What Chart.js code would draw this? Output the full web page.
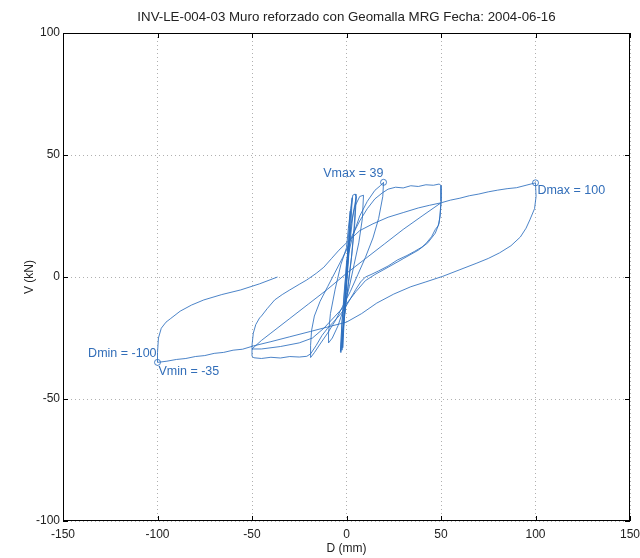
<!DOCTYPE html>
<html>
<head>
<meta charset="utf-8">
<script src="https://cdn.jsdelivr.net/npm/chart.js@4.4.0/dist/chart.umd.min.js"></script>
<style>
  html, body { margin: 0; padding: 0; background: #fff; }
  #wrap { width: 640px; height: 558px; }
</style>
</head>
<body>
<div id="wrap"><canvas id="hyst"></canvas></div>
<script>
// small cycles near origin (+-1, +-2, +-5, +-10 mm)
const dSmall = [0, 0.5, 1, 0.6, 0, -0.5, -1, -0.6, 0, 1, 2, 1.6, 0.5, -0.5, -1.5, -2, -1.5, -0.3, 1, 2.2, 3.3, 4.6, 5, 4, 2.6, 1, -1, -2.4, -3, -2.6, -1.2, 0.6, 2.5, 4.5, 7, 9, 8.4, 6.5, 4, 1.5, -1.5, -4.5, -7.5, -9.5, -9.5, -8.5, -6, -3, 0];
const vSmall = [0, 7, 14, 6, -1, -8, -15, -6, 1, 16, 27, 16, 4, -9, -22, -29, -17, -3, 12, 26, 33.5, 34, 33, 20, 8, -2, -16, -27, -31, -21, -6, 10, 22, 29, 33, 33.5, 24, 14, 5, -4, -13, -20, -25, -27, -23, -15, -5, 5, 12];

// repeated small cycles (second pass, slightly softer)
const dSmall2 = [0, 1, 2.2, 3, 2.4, 1, -0.5, -1.8, -2.4, -1.6, 0, 1.5, 3.5, 5.2, 4.4, 2.8, 1, -1, -2.5, -3.2, -2.4, -0.6, 0];
const vSmall2 = [12, 20, 28, 32.5, 22, 8, -6, -19, -30, -20, -4, 12, 26, 33, 22, 9, -3, -15, -25, -30.5, -19, -2, 6];

// +-20 mm cycle
const d20 = [0, 3, 7, 11, 15, 18, 19.6, 19.2, 17, 14, 10, 6, 2, -2, -6, -10, -14, -17, -19, -19, -18.5, -17, -14, -10, -6, -2, 0];
const v20 = [6, 16, 25, 31, 35.5, 37.5, 38.8, 33, 24, 16, 8, 1, -6, -12, -18, -23, -27.5, -31, -33, -28, -22, -16, -10, -4, 2, 8, 11];

// first +-50 mm cycle
const d50a = [0, 3, 7, 11, 15, 19, 22, 26, 30, 34, 38, 42, 46, 49, 50, 50, 49.6, 48.5, 47, 45, 42, 40, 36, 32, 27, 22, 17, 13, 10, 7.5, 5, 2, -1, -4, -7, -10, -13, -16, -19, -21, -25, -30, -35, -40, -45, -49, -50, -50, -49.3, -48, -46, -45, -42, -38, -34, -30, -25, -21, -16, -12, -8, -4, 0];
const v50a = [11, 17, 23, 28, 32, 34.5, 36, 36.8, 36.5, 37.4, 37.1, 37.8, 37.6, 38.1, 37.5, 31, 25, 21, 19.5, 16.5, 13.7, 12.3, 10.5, 8.8, 7, 4.5, 2.5, 1, 0, -2, -5, -9, -13, -16, -18.5, -21, -24, -28, -31.5, -32.5, -32.8, -32.6, -33.2, -32.9, -33.4, -33.1, -32.5, -28, -23, -19.5, -16.8, -16, -13, -9.4, -7.2, -5.3, -3, -1.2, 1.5, 4, 7.5, 11, 14];

// second +-50 mm cycle
const d50b = [0, 7, 14, 22, 30, 38, 44, 50, 49, 47, 43, 38, 30, 22, 15, 10, 5, 0, -6, -12, -18, -25, -35, -45, -50];
const v50b = [14, 19, 21.8, 24.5, 26.4, 28.3, 29.4, 30.4, 22, 18, 14, 11, 7.5, 4, 1, -1.5, -6, -11, -16, -21, -25, -27, -28.5, -29.5, -29.5];

// +-100 mm cycle and final unloading
const d100 = [-50, -45, -40, -30, -20, -10, 0, 10, 20, 30, 40, 50, 55, 60, 65, 70, 75, 80, 85, 90, 95, 100, 100.3, 99.5, 97, 95, 92, 87, 81, 75, 69, 60, 51, 42, 34, 25, 16, 8, 0, -10, -19, -30, -40, -49, -55, -60, -65, -70, -75, -80, -85, -90, -95, -100, -100, -99.5, -98, -95.5, -93, -88, -82, -75.5, -66, -56, -46, -36.5];
const v100 = [-29.5, -26, -23, -17, -11, -5, 1.5, 7.5, 13.5, 19.5, 25, 30.4, 31.5, 32.3, 33.3, 34, 34.9, 35.6, 36.2, 36.6, 37.6, 38.6, 33, 28, 23.4, 20, 16.4, 12.8, 9.9, 7.6, 5.7, 3, 0.3, -2, -4, -7, -10.7, -15, -18.5, -20.5, -22.3, -24.5, -26.5, -28.2, -29.6, -30, -30.9, -31.3, -32.2, -32.6, -33.4, -33.8, -34.5, -35, -31, -25, -21, -18.5, -17, -14, -11.5, -9.4, -7.2, -5.3, -2.8, 0];

const xTicks = [-150, -100, -50, 0, 50, 100, 150];
const yTicks = [-100, -50, 0, 50, 100];

const extremeD = [19.6, 100, -100];
const extremeV = [38.8, 38.6, -35];

const labelText = ['Vmax = 39', 'Dmax = 100', 'Dmin = -100', 'Vmin = -35'];
const labelD = [19.5, 101, -100.5, -99.5];
const labelV = [42.5, 35.3, -31.3, -38.8];
const labelAlign = ['right', 'left', 'right', 'left'];

const titleText = 'INV-LE-004-03 Muro reforzado con Geomalla MRG Fecha: 2004-06-16';

const lineColor = 'rgba(45,110,190,0.85)';

function toPts(ds, vs) {
  return ds.map((d, i) => ({ x: d, y: vs[i] }));
}

const cycles = [[dSmall, vSmall], [dSmall2, vSmall2], [d20, v20], [d50a, v50a], [d50b, v50b], [d100, v100]];
const datasets = cycles.map(c => ({
  data: toPts(c[0], c[1]),
  showLine: true,
  borderColor: lineColor,
  borderWidth: 1,
  pointRadius: 0,
  tension: 0
}));
datasets.push({
  data: toPts(extremeD, extremeV),
  showLine: false,
  pointRadius: 3,
  pointBorderColor: lineColor,
  pointBackgroundColor: 'rgba(0,0,0,0)',
  pointBorderWidth: 1
});

const boxPlugin = {
  id: 'boxPlugin',
  afterDatasetsDraw(chart) {
    const ctx = chart.ctx;
    const a = chart.chartArea;
    const xs = chart.scales.x, ys = chart.scales.y;
    ctx.save();
    // title, centred over the axes
    ctx.fillStyle = '#222';
    ctx.font = '13.3px "Liberation Sans", Arial, sans-serif';
    ctx.textAlign = 'center';
    ctx.textBaseline = 'middle';
    ctx.fillText(titleText, (a.left + a.right) / 2, 17);
    // annotations
    ctx.fillStyle = 'rgb(50,110,185)';
    ctx.font = '12.5px "Liberation Sans", Arial, sans-serif';
    labelText.forEach((t, i) => {
      ctx.textAlign = labelAlign[i];
      ctx.fillText(t, xs.getPixelForValue(labelD[i]), ys.getPixelForValue(labelV[i]));
    });
    // frame and inward ticks
    ctx.strokeStyle = '#000';
    ctx.lineWidth = 1;
    ctx.strokeRect(a.left + 0.5, a.top + 0.5, a.right - a.left - 1, a.bottom - a.top - 1);
    ctx.beginPath();
    xTicks.forEach(v => {
      const px = Math.round(xs.getPixelForValue(v)) + 0.5;
      ctx.moveTo(px, a.bottom); ctx.lineTo(px, a.bottom - 5);
      ctx.moveTo(px, a.top); ctx.lineTo(px, a.top + 5);
    });
    yTicks.forEach(v => {
      const py = Math.round(ys.getPixelForValue(v)) + 0.5;
      ctx.moveTo(a.left, py); ctx.lineTo(a.left + 5, py);
      ctx.moveTo(a.right, py); ctx.lineTo(a.right - 5, py);
    });
    ctx.stroke();
    ctx.restore();
  }
};

const font = { family: '"Liberation Sans", Arial, sans-serif', size: 12 };

new Chart(document.getElementById('hyst'), {
  type: 'scatter',
  data: { datasets: datasets },
  options: {
    responsive: true,
    maintainAspectRatio: false,
    animation: false,
    layout: { padding: { left: 0, right: 10, top: 33, bottom: 0 } },
    plugins: {
      legend: { display: false },
      tooltip: { enabled: false },
      title: { display: false }
    },
    scales: {
      x: {
        type: 'linear',
        min: -150, max: 150,
        afterBuildTicks: s => { s.ticks = xTicks.map(v => ({ value: v })); },
        afterFit: s => { s.height = 37; s.paddingLeft = 0; s.paddingRight = 0; },
        ticks: { color: '#222', font: font, padding: 6, maxRotation: 0 },
        grid: { color: '#b0b0b0', drawTicks: false },
        border: { display: false, dash: [1, 3] },
        title: { display: true, text: 'D (mm)', color: '#222', font: font, padding: { top: 0, bottom: 2 } }
      },
      y: {
        type: 'linear',
        min: -100, max: 100,
        afterBuildTicks: s => { s.ticks = yTicks.map(v => ({ value: v })); },
        afterFit: s => { s.width = 63; s.paddingTop = 0; s.paddingBottom = 0; },
        ticks: { color: '#222', font: font, padding: 3 },
        grid: { color: '#b0b0b0', drawTicks: false },
        border: { display: false, dash: [1, 3] },
        title: { display: true, text: 'V (kN)', color: '#222', font: font, padding: { top: 22, bottom: 0 } }
      }
    }
  },
  plugins: [boxPlugin]
});
</script>
</body>
</html>
